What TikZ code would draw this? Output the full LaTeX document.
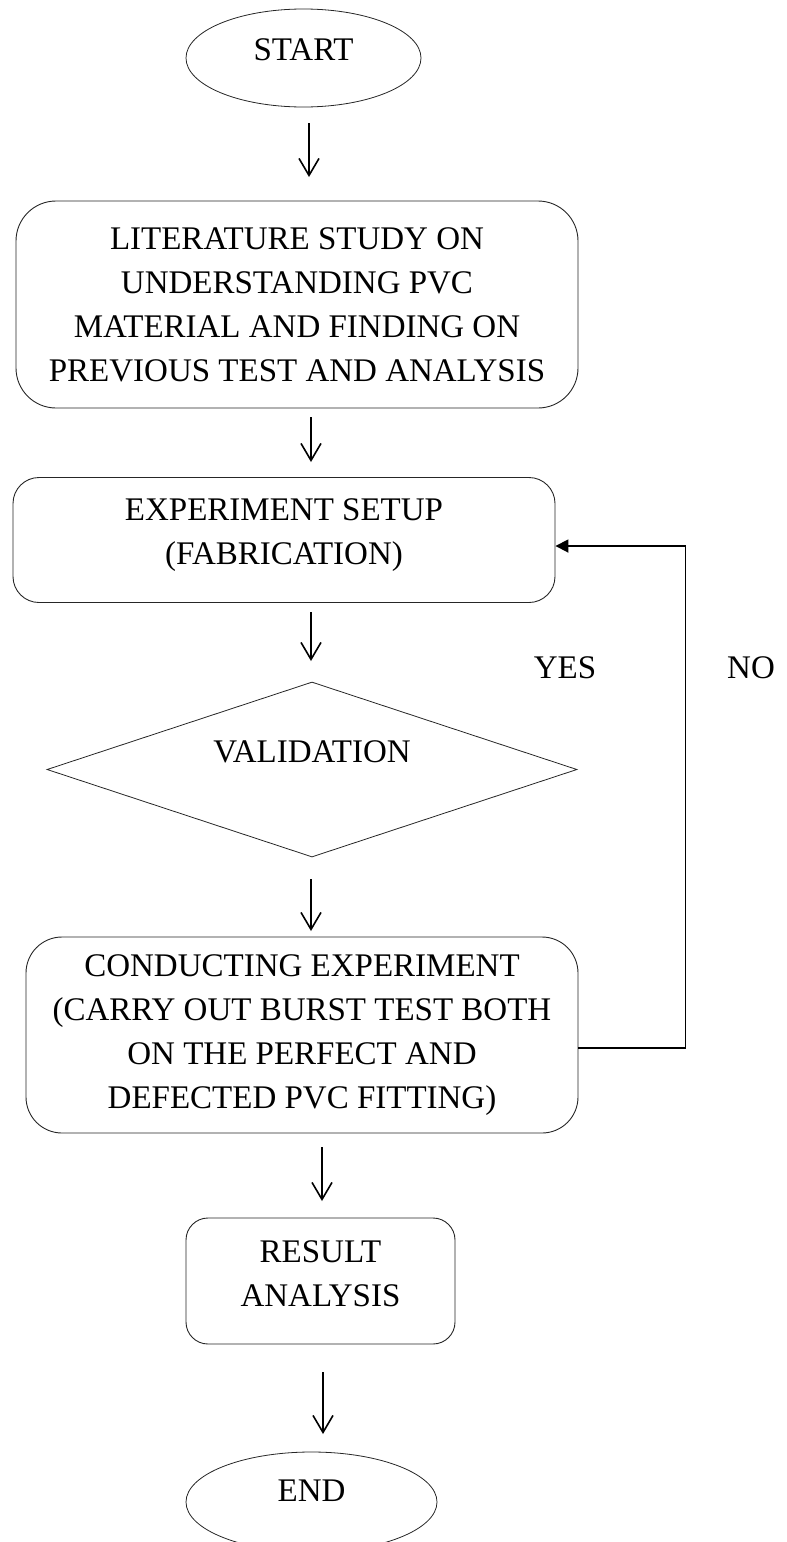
\documentclass[tikz,border=0pt]{standalone}
\usepackage{fontspec}
\setmainfont{Liberation Serif}
\usetikzlibrary{shapes.geometric,arrows.meta}
\begin{document}
\begin{tikzpicture}[x=1pt,y=-1pt,
  every node/.style={font=\fontsize{33}{44}\selectfont},
  box/.style={draw=black!85, line width=0.9pt, rounded corners=#1,
    align=center, inner sep=0pt},
  term/.style={draw=black!85, line width=0.8pt, ellipse, inner sep=0pt},
  decide/.style={draw=black!85, line width=0.8pt, diamond, inner sep=0pt},
  arr/.style={draw=black, line width=1.6pt,
    -{Straight Barb[length=17pt,width=20pt,line width=1.6pt]}},
  back/.style={draw=black, line width=1.8pt,
    -{Triangle[length=13pt,width=13pt]}},
  tag/.style={inner sep=0pt}
]
\useasboundingbox (0,0) rectangle (787,1542);
\clip (0,0) rectangle (787,1542);

% terminals
\node[term, minimum width=235pt, minimum height=98pt] (start) at (303.5,58) {};
\node[tag] (starttxt) at (303.5,50) {START};
\node[term, minimum width=251pt, minimum height=100pt] (end) at (311.5,1502) {};
\node[tag] (endtxt) at (311.5,1491) {END};

% process boxes (text depth lifts the text block a little inside its box)
\node[box=40pt, minimum width=562pt, minimum height=207pt] (lit) at (297,304.5)
  {LITERATURE STUDY ON\\UNDERSTANDING PVC\\MATERIAL AND FINDING ON\\PREVIOUS TEST AND ANALYSIS};
\node[box=26pt, minimum width=542pt, minimum height=125pt, text depth=16pt] (exp) at (284,540)
  {EXPERIMENT SETUP\\(FABRICATION)};
\node[decide, minimum width=530pt, minimum height=175pt] (val) at (312,769.5) {};
\node[tag] (valtxt) at (312,752) {VALIDATION};
\node[box=36pt, minimum width=552pt, minimum height=196pt] (cond) at (302,1035)
  {CONDUCTING EXPERIMENT\\(CARRY OUT BURST TEST BOTH\\ON THE PERFECT AND\\DEFECTED PVC FITTING)};
\node[box=22pt, minimum width=269pt, minimum height=126pt, text depth=14pt] (res) at (320.5,1281)
  {RESULT\\ANALYSIS};

% branch labels
\node[tag] (yes) at (565,668) {YES};
\node[tag] (no) at (751,668) {NO};

% downward arrows
\coordinate (a1t) at (309,123);  \coordinate (a1b) at (309,177);
\coordinate (a2t) at (311,417);  \coordinate (a2b) at (311,462);
\coordinate (a3t) at (311,612);  \coordinate (a3b) at (311,661);
\coordinate (a4t) at (311,879);  \coordinate (a4b) at (311,931);
\coordinate (a5t) at (322,1147); \coordinate (a5b) at (322,1201);
\coordinate (a6t) at (323,1372); \coordinate (a6b) at (323,1434);
\draw[arr] (a1t) -- (a1b);
\draw[arr] (a2t) -- (a2b);
\draw[arr] (a3t) -- (a3b);
\draw[arr] (a4t) -- (a4b);
\draw[arr] (a5t) -- (a5b);
\draw[arr] (a6t) -- (a6b);

% loop back to the setup step
\draw[back] ([yshift=-13pt]cond.east) -- ++(107,0) |- ([yshift=-6pt]exp.east);
\end{tikzpicture}
\end{document}
